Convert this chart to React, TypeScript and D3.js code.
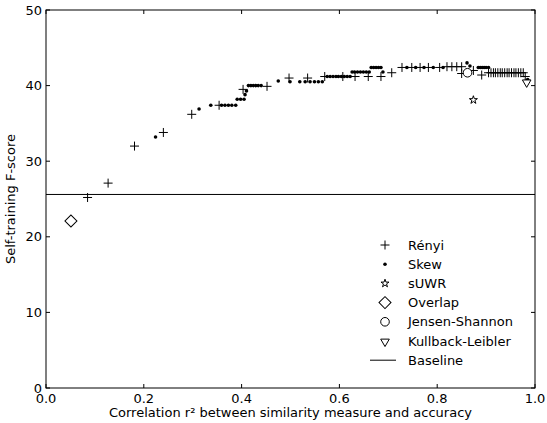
import { FC } from "react";
import * as d3 from "d3";

const WIDTH = 547;
const HEIGHT = 423;
const MARGIN = { top: 10, right: 12, bottom: 35, left: 46 };
const FONT = "DejaVu Sans, sans-serif";
const FS = 13;

// [correlation r², F-score]
const renyi: [number, number][] = [
  [0.085, 25.2], [0.127, 27.1], [0.181, 32.0], [0.240, 33.8], [0.298, 36.2],
  [0.354, 37.4], [0.403, 39.5], [0.452, 39.9], [0.497, 41.0], [0.535, 41.0],
  [0.570, 41.2], [0.607, 41.2], [0.632, 41.2], [0.659, 41.2], [0.685, 41.2],
  [0.707, 41.7], [0.728, 42.4], [0.748, 42.4], [0.765, 42.4], [0.782, 42.4],
  [0.805, 42.4], [0.820, 42.5], [0.830, 42.5], [0.840, 42.5], [0.850, 42.5],
  [0.850, 41.6], [0.874, 42.0], [0.891, 41.4], [0.905, 41.7], [0.910, 41.7],
  [0.915, 41.7], [0.919, 41.7], [0.924, 41.7], [0.929, 41.7], [0.933, 41.7],
  [0.938, 41.7], [0.943, 41.7], [0.947, 41.7], [0.952, 41.7], [0.957, 41.7],
  [0.961, 41.7], [0.966, 41.7], [0.971, 41.7], [0.976, 41.7], [0.980, 41.2],
];

const skew: [number, number][] = [
  [0.224, 33.2], [0.313, 36.9], [0.337, 37.4], [0.359, 37.4], [0.366, 37.4],
  [0.373, 37.4], [0.380, 37.4], [0.388, 37.4], [0.391, 38.2], [0.398, 38.2],
  [0.405, 38.2], [0.407, 38.8], [0.410, 39.3], [0.414, 40.0], [0.419, 40.0],
  [0.424, 40.0], [0.429, 40.0], [0.434, 40.0], [0.440, 40.0], [0.475, 40.6],
  [0.499, 40.5], [0.519, 40.5], [0.530, 40.5], [0.540, 40.5], [0.549, 40.5],
  [0.557, 40.5], [0.565, 40.5], [0.575, 41.2], [0.581, 41.2], [0.587, 41.2],
  [0.593, 41.2], [0.598, 41.2], [0.604, 41.2], [0.610, 41.2], [0.616, 41.2],
  [0.622, 41.2], [0.626, 41.8], [0.631, 41.8], [0.637, 41.8], [0.643, 41.8],
  [0.649, 41.8], [0.655, 41.8], [0.661, 41.8], [0.665, 42.4], [0.670, 42.4],
  [0.675, 42.4], [0.680, 42.4], [0.685, 42.4], [0.689, 41.8], [0.738, 42.4],
  [0.756, 42.4], [0.773, 42.4], [0.792, 42.4], [0.812, 42.4], [0.861, 43.0],
  [0.867, 42.6], [0.884, 42.4], [0.888, 42.4], [0.892, 42.4], [0.896, 42.4],
  [0.900, 42.4], [0.905, 42.4], [0.985, 40.8],
];

const suwr: [number, number][] = [[0.874, 38.1]];
const overlap: [number, number][] = [[0.051, 22.1]];
const jensenShannon: [number, number][] = [[0.862, 41.7]];
const kullbackLeibler: [number, number][] = [[0.983, 40.5]];
const BASELINE = 25.6;

const xTicks = [0.0, 0.2, 0.4, 0.6, 0.8, 1.0];
const yTicks = [0, 10, 20, 30, 40, 50];

const legendLabels = ["Rényi", "Skew", "sUWR", "Overlap", "Jensen-Shannon", "Kullback-Leibler", "Baseline"];

type Kind = "plus" | "dot" | "star" | "diamond" | "circle" | "tri" | "line";

const Marker: FC<{ kind: Kind; x: number; y: number }> = ({ kind, x, y }) => {
  switch (kind) {
    case "plus":
      return (
        <path d={`M${x - 4.5},${y}H${x + 4.5}M${x},${y - 4.5}V${y + 4.5}`} stroke="#000" strokeWidth={1} />
      );
    case "dot":
      return <circle cx={x} cy={y} r={1.8} fill="#000" />;
    case "star":
      return (
        <path
          d={d3.symbol(d3.symbolStar, 20)() || ""}
          transform={`translate(${x},${y})`}
          fill="#fff"
          stroke="#000"
          strokeWidth={1}
        />
      );
    case "diamond":
      return (
        <path
          d={d3.symbol(d3.symbolSquare, 72)() || ""}
          transform={`translate(${x},${y}) rotate(45)`}
          fill="#fff"
          stroke="#000"
          strokeWidth={1}
        />
      );
    case "circle":
      return <circle cx={x} cy={y} r={4.3} fill="#fff" stroke="#000" strokeWidth={1} />;
    case "tri":
      return (
        <path
          d={d3.symbol(d3.symbolTriangle, 32)() || ""}
          transform={`translate(${x},${y + 0.6}) rotate(180)`}
          fill="#fff"
          stroke="#000"
          strokeWidth={1}
        />
      );
    default:
      return <line x1={x - 13} x2={x + 13} y1={y} y2={y} stroke="#000" strokeWidth={1} />;
  }
};

const App: FC = () => {
  const boundsWidth = WIDTH - MARGIN.left - MARGIN.right;
  const boundsHeight = HEIGHT - MARGIN.top - MARGIN.bottom;

  const xScale = d3.scaleLinear().domain([0, 1]).range([0, boundsWidth]);
  const yScale = d3.scaleLinear().domain([0, 50]).range([boundsHeight, 0]);

  const series: { data: [number, number][]; kind: Kind }[] = [
    { data: renyi, kind: "plus" },
    { data: skew, kind: "dot" },
    { data: suwr, kind: "star" },
    { data: overlap, kind: "diamond" },
    { data: jensenShannon, kind: "circle" },
    { data: kullbackLeibler, kind: "tri" },
  ];
  const legendKinds: Kind[] = ["plus", "dot", "star", "diamond", "circle", "tri", "line"];

  const TICK = 4;

  return (
    <svg width={WIDTH} height={HEIGHT} style={{ position: "absolute", left: 0, top: 0 }} fontFamily={FONT}>
      <rect width={WIDTH} height={HEIGHT} fill="#fff" />
      <g transform={`translate(${MARGIN.left},${MARGIN.top})`}>
        {/* baseline */}
        <line x1={0} x2={boundsWidth} y1={yScale(BASELINE)} y2={yScale(BASELINE)} stroke="#000" strokeWidth={1} />

        {series.map((s, si) =>
          s.data.map((d, i) => <Marker key={`${si}-${i}`} kind={s.kind} x={xScale(d[0])} y={yScale(d[1])} />)
        )}

        {/* frame */}
        <rect x={0} y={0} width={boundsWidth} height={boundsHeight} fill="none" stroke="#000" strokeWidth={1} />

        {xTicks.map((t) => (
          <g key={`x${t}`}>
            <line x1={xScale(t)} x2={xScale(t)} y1={boundsHeight} y2={boundsHeight - TICK} stroke="#000" />
            <line x1={xScale(t)} x2={xScale(t)} y1={0} y2={TICK} stroke="#000" />
            <text x={xScale(t)} y={boundsHeight + 15} textAnchor="middle" fontSize={FS}>
              {t.toFixed(1)}
            </text>
          </g>
        ))}
        {yTicks.map((t) => (
          <g key={`y${t}`}>
            <line x1={0} x2={TICK} y1={yScale(t)} y2={yScale(t)} stroke="#000" />
            <line x1={boundsWidth} x2={boundsWidth - TICK} y1={yScale(t)} y2={yScale(t)} stroke="#000" />
            <text x={-4} y={yScale(t)} textAnchor="end" dominantBaseline="central" fontSize={FS}>
              {t}
            </text>
          </g>
        ))}

        <text x={boundsWidth / 2} y={boundsHeight + 29} textAnchor="middle" fontSize={FS}>
          Correlation r² between similarity measure and accuracy
        </text>
        <text
          transform={`translate(${-31},${boundsHeight / 2}) rotate(-90)`}
          textAnchor="middle"
          fontSize={FS}
        >
          Self-training F-score
        </text>

        {/* legend */}
        <g transform={`translate(${385 - MARGIN.left},${245 - MARGIN.top})`}>
          {legendLabels.map((label, i) => (
            <g key={label} transform={`translate(0,${i * 19.2})`}>
              <Marker kind={legendKinds[i]} x={i === 6 ? -2 : 0} y={0} />
              <text x={23} y={0} dominantBaseline="central" fontSize={FS}>
                {label}
              </text>
            </g>
          ))}
        </g>
      </g>
    </svg>
  );
};

export default App;
